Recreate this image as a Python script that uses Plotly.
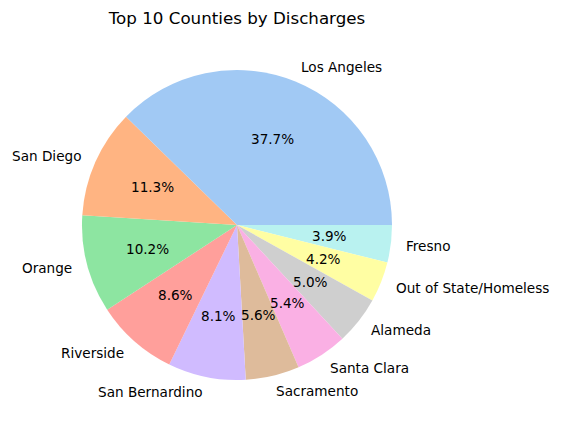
import math
import plotly.graph_objects as go

labels = ["Los Angeles", "San Diego", "Orange", "Riverside", "San Bernardino",
          "Sacramento", "Santa Clara", "Alameda", "Out of State/Homeless", "Fresno"]
values = [37.7, 11.3, 10.2, 8.6, 8.1, 5.6, 5.4, 5.0, 4.2, 3.9]
colors = ["#a1c9f4", "#ffb482", "#8de5a1", "#ff9f9b", "#d0bbff",
          "#debb9b", "#fab0e4", "#cfcfcf", "#fffea3", "#b9f2f0"]

# the page body has an 8px margin, so the figure is drawn 8px in from the window corner
OFF = 8
W, H = 561 - OFF, 429 - OFF
cx, cy, r = 237 - OFF, 225 - OFF, 155  # pixel centre (from figure top-left) and radius

# matplotlib draws counterclockwise from 3 o'clock; same as clockwise with reversed order
fig = go.Figure(go.Pie(
    labels=labels[::-1], values=values[::-1], sort=False, direction="clockwise",
    rotation=90, textinfo="none", hoverinfo="label+percent",
    marker=dict(colors=colors[::-1], line=dict(width=0)),
    domain=dict(x=[(cx - r) / W, (cx + r) / W],
                y=[1 - (cy + r) / H, 1 - (cy - r) / H]),
    showlegend=False,
))

total = sum(values)
ann = []
cum = 0
font = dict(family="DejaVu Sans", size=13.6, color="black")
for lab, v in zip(labels, values):
    theta = math.radians(360 * (cum + v / 2) / total)
    cum += v
    c, s = math.cos(theta), math.sin(theta)
    lx, ly = cx + 1.1 * r * c, cy - 1.1 * r * s
    ann.append(dict(x=lx / W, y=1 - ly / H, xref="paper", yref="paper",
                    text=lab, showarrow=False, font=font, borderpad=0, borderwidth=0,
                    xanchor="left" if c > 0 else "right", yanchor="middle"))
    px, py = cx + 0.6 * r * c, cy - 0.6 * r * s
    ann.append(dict(x=px / W, y=1 - py / H, xref="paper", yref="paper",
                    text=f"{100 * v / total:.1f}%", showarrow=False, font=font,
                    borderpad=0, borderwidth=0,
                    xanchor="center", yanchor="middle"))

fig.update_layout(
    width=W, height=H, margin=dict(l=0, r=0, t=0, b=0),
    paper_bgcolor="white", plot_bgcolor="white",
    title=dict(text="Top 10 Counties by Discharges", x=cx / W, xanchor="center",
               y=1 - (18 - OFF) / H, yanchor="middle",
               font=dict(family="DejaVu Sans", size=16.7, color="black")),
    annotations=ann,
)
fig.write_html("out.html")
